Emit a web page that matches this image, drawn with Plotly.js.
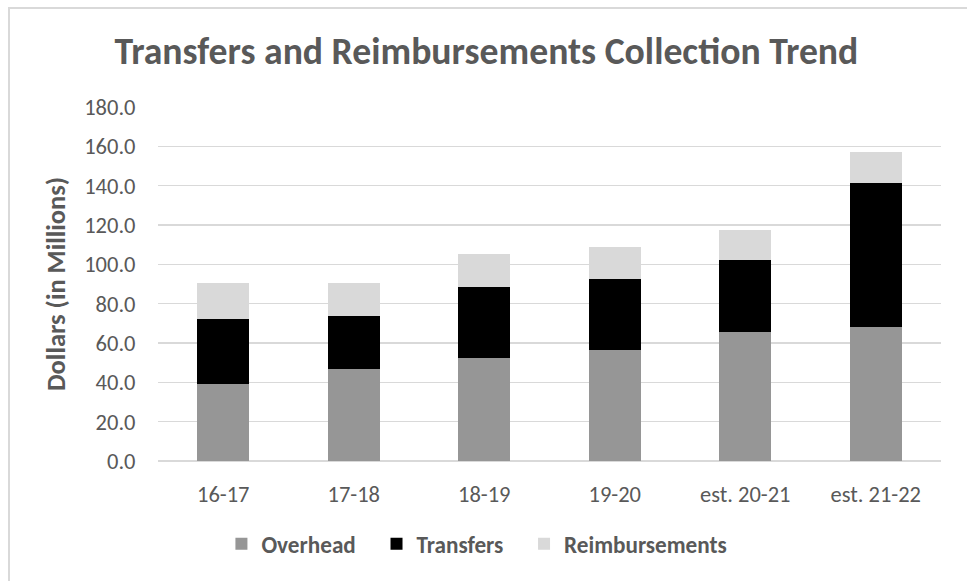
<!DOCTYPE html>
<html>
<head>
<meta charset="utf-8">
<script src="https://cdn.plot.ly/plotly-3.0.1.min.js"></script>
<style>
  html, body { margin: 0; padding: 0; background: #fff; overflow: hidden; }
  #chart { width: 967px; height: 581px; }
  #frame { position: absolute; left: 8px; top: 7px; width: 1200px; height: 1200px;
           border-left: 2px solid #d9d9d9; border-top: 2px solid #d9d9d9; pointer-events: none; }
</style>
</head>
<body>
<div id="chart"></div>
<div id="frame"></div>
<script>
const categories = ["16-17", "17-18", "18-19", "19-20", "est. 20-21", "est. 21-22"];
const overhead = [39.3, 46.9, 52.6, 56.5, 65.6, 68.2];
const transfers = [32.9, 26.7, 36.0, 35.8, 36.6, 73.0];
const reimbursements = [18.1, 16.7, 16.6, 16.3, 15.4, 16.1];
const yTicks = [0, 20, 40, 60, 80, 100, 120, 140, 160, 180];
const seriesNames = ["Overhead", "Transfers", "Reimbursements"];

const FONT = "Carlito, Calibri, Lato, sans-serif";
const GRAY = "#595959";
const PAD = "\u00A0\u00A0\u00A0";

const traces = [
  { type: "bar", name: "<b>" + seriesNames[0] + "</b>" + PAD, x: categories, y: overhead, marker: { color: "#969696" } },
  { type: "bar", name: "<b>" + seriesNames[1] + "</b>" + PAD, x: categories, y: transfers, marker: { color: "#000000" } },
  { type: "bar", name: "<b>" + seriesNames[2] + "</b>", x: categories, y: reimbursements, marker: { color: "#d9d9d9" } }
];

const layout = {
  width: 967, height: 581,
  barmode: "stack",
  bargap: 0.6,
  paper_bgcolor: "#fff",
  plot_bgcolor: "#fff",
  margin: { l: 158, r: 26, t: 107, b: 120 },
  font: { family: FONT, color: GRAY },
  title: {
    text: "<b>Transfers and Reimbursements Collection Trend</b>",
    font: { family: FONT, size: 37.7, color: GRAY },
    x: 0.503, xref: "container", xanchor: "center",
    y: 0.912, yref: "container", yanchor: "middle"
  },
  xaxis: {
    type: "category",
    tickfont: { family: FONT, size: 22.5, color: GRAY },
    showgrid: false,
    showline: false,
    zeroline: false,
    ticks: "outside", ticklen: 13, tickcolor: "rgba(0,0,0,0)",
    fixedrange: true
  },
  yaxis: {
    range: [0, 180],
    tickvals: yTicks,
    ticktext: yTicks.map(v => v.toFixed(1)),
    tickfont: { family: FONT, size: 22.5, color: GRAY },
    gridcolor: "#d9d9d9", gridwidth: 1.5,
    zeroline: true, zerolinecolor: "#d9d9d9", zerolinewidth: 1.5,
    showline: false,
    ticks: "outside", ticklen: 17, tickcolor: "rgba(0,0,0,0)",
    title: { text: "<b>Dollars (in Millions)</b>", font: { family: FONT, size: 26.5, color: GRAY }, standoff: 10 },
    automargin: false,
    fixedrange: true
  },
  showlegend: true,
  legend: {
    orientation: "h",
    x: 0.081, xanchor: "left",
    y: -0.235, yanchor: "middle",
    font: { family: FONT, size: 23.2, color: GRAY },
    traceorder: "normal",
    itemclick: false
  }
};

Plotly.newPlot("chart", traces, layout, { displayModeBar: false, staticPlot: true });
</script>
</body>
</html>
